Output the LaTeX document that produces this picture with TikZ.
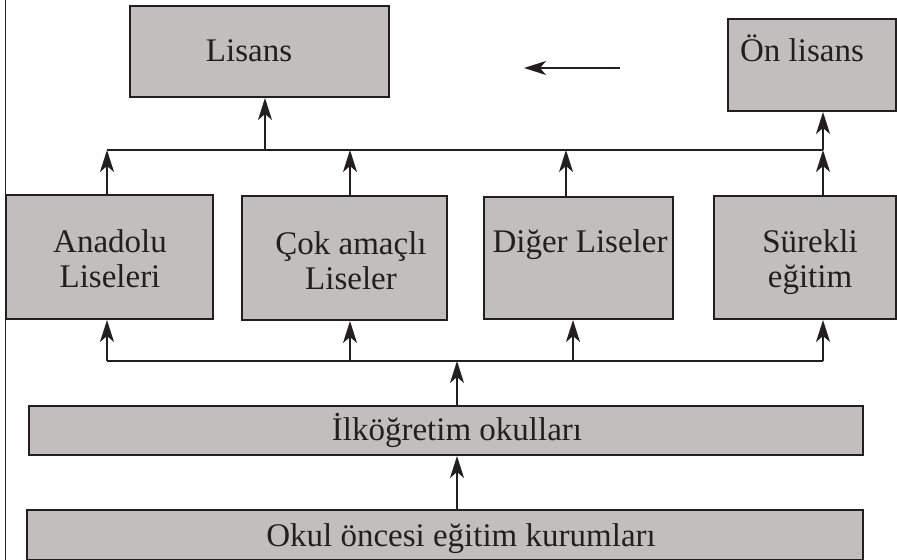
\documentclass[tikz,border=0pt]{standalone}
\usepackage{fontspec}
\setmainfont{Liberation Serif}
\usetikzlibrary{arrows.meta}
\definecolor{boxfill}{RGB}{192,191,190}
\definecolor{ink}{RGB}{35,31,32}
\begin{document}
\begin{tikzpicture}[x=0.5pt,y=-0.5pt,
  box/.style={draw=ink,fill=boxfill,line width=1pt,inner sep=0pt,rectangle},
  txt/.style={text=ink,font=\fontsize{16.5}{17.5}\selectfont,align=center,inner sep=0pt,anchor=base},
  conn/.style={draw=ink,line width=0.8pt},
  arr/.style={draw=ink,line width=0.8pt,-{Stealth[length=11pt,width=7pt,inset=3pt]}}]
\useasboundingbox (0,0) rectangle (897,560);
% left frame line
\coordinate (ltop) at (5.5,0);
\coordinate (lbot) at (5.5,560);
\draw[conn] (ltop) -- (lbot);
% boxes
\node[box,minimum width=129.5pt,minimum height=45.5pt] (lisans) at (259.5,51.5) {};
\node[box,minimum width=84pt,minimum height=46pt] (onlisans) at (812,65) {};
\node[box,minimum width=103.5pt,minimum height=62pt] (anadolu) at (109.5,257) {};
\node[box,minimum width=102.5pt,minimum height=62pt] (cok) at (344.5,258) {};
\node[box,minimum width=94.5pt,minimum height=61pt] (diger) at (578.5,258) {};
\node[box,minimum width=91pt,minimum height=61.5pt] (surekli) at (805,257.5) {};
\node[box,minimum width=417pt,minimum height=24.5pt] (ilk) at (446,430.5) {};
\node[box,minimum width=418pt,minimum height=25pt] (okul) at (445,535) {};
% texts
\node[txt] (tlisans) at (249,62) {Lisans};
\node[txt] (tonlisans) at (802,62) {Ön lisans};
\node[txt] (tanadolu) at (110,288) {Anadolu\\Liseleri};
\node[txt] (tcok) at (351,290) {Çok amaçlı\\Liseler};
\node[txt] (tdiger) at (580,253) {Diğer Liseler};
\node[txt] (tsurekli) at (810,288) {Sürekli\\eğitim};
\node[txt] (tilk) at (457,440) {İlköğretim okulları};
\node[txt] (tokul) at (461,546) {Okul öncesi eğitim kurumları};
% upper bus
\coordinate (u1) at (107,150);
\coordinate (u2) at (350,150);
\coordinate (u3) at (566,150);
\coordinate (u4) at (823,150);
\coordinate (ul) at (265,150);
\draw[conn] (u1) -- (u4);
\draw[arr] (ul) -- (ul |- lisans.south);
\draw[arr] (u4) -- (u4 |- onlisans.south);
\draw[arr] (u1 |- anadolu.north) -- (u1);
\draw[arr] (u2 |- cok.north) -- (u2);
\draw[arr] (u3 |- diger.north) -- (u3);
\draw[arr] (u4 |- surekli.north) -- (u4);
% lower bus
\coordinate (l1) at (107,361);
\coordinate (l2) at (350,361);
\coordinate (l3) at (573,361);
\coordinate (l4) at (823,361);
\coordinate (lc) at (457,361);
\draw[conn] (l1) -- (l4);
\draw[arr] (l1) -- (l1 |- anadolu.south);
\draw[arr] (l2) -- (l2 |- cok.south);
\draw[arr] (l3) -- (l3 |- diger.south);
\draw[arr] (l4) -- (l4 |- surekli.south);
\draw[arr] (lc |- ilk.north) -- (lc);
\draw[arr] (lc |- okul.north) -- (lc |- ilk.south);
% small arrow
\coordinate (sa) at (620,68);
\coordinate (sb) at (524,68);
\draw[arr] (sa) -- (sb);
\end{tikzpicture}
\end{document}
